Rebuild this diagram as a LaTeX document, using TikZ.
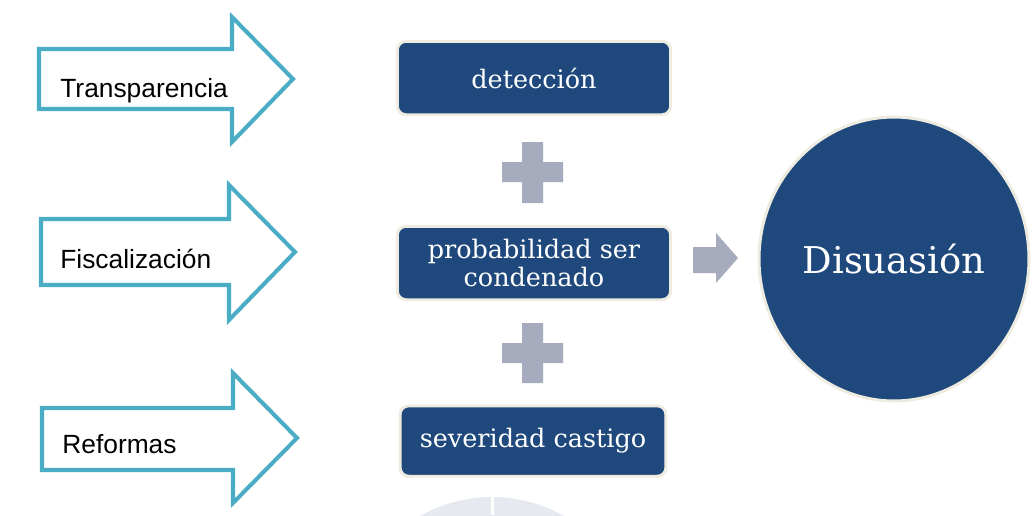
\documentclass[tikz,border=0pt]{standalone}
\usepackage{fontspec}
\setmainfont{DejaVu Serif}
\newfontfamily\armfont{Liberation Sans}
\usetikzlibrary{shapes.geometric}

\definecolor{navy}{RGB}{31,73,125}
\definecolor{cream}{RGB}{238,236,225}
\definecolor{tealline}{RGB}{75,172,198}
\definecolor{plusgray}{RGB}{166,171,189}
\definecolor{faintblue}{RGB}{230,233,240}

\begin{document}
\begin{tikzpicture}[x=0.02cm, y=-0.02cm,
	armlabel/.style={anchor=base west, inner sep=0pt, font=\armfont\fontsize{15}{18}\selectfont},
	bluebox/.style={draw=cream, line width=1.7pt, fill=navy, rounded corners=5pt, text=white,
		align=center, inner sep=0pt, font=\fontsize{14.5}{15.5}\selectfont},
	hollowarrow/.style={draw=tealline, line width=2.3pt, line join=miter}]
	\useasboundingbox (0,0) rectangle (1035,515);

	% ================= fondo: sello tenue abajo =================
	\begin{scope}
		\clip (0,0) rectangle (1035,515);
		\fill[faintblue] (492,642) circle (145);
		\fill[white] (490.5,490) rectangle (493.5,515);
	\end{scope}

	% ================= flechas de la izquierda =================
	\draw[hollowarrow] (39,49) -- (232,49) -- (232,17) -- (293,79) -- (232,142) -- (232,109) -- (39,109) -- cycle;
	\node[armlabel] (transp) at (60,97) {Transparencia};

	\draw[hollowarrow] (41,219) -- (229,219) -- (229,185) -- (295,252) -- (229,320) -- (229,285) -- (41,285) -- cycle;
	\node[armlabel] (fisc) at (60,268) {Fiscalización};

	\draw[hollowarrow] (42,408) -- (233,408) -- (233,373) -- (297,438) -- (233,503) -- (233,470) -- (42,470) -- cycle;
	\node[armlabel] (refor) at (62,453) {Reformas};

	% ================= factores =================
	\node[bluebox, minimum width=5.47cm, minimum height=1.47cm] (det) at (534,78) {detección};
	\node[bluebox, minimum width=5.47cm, minimum height=1.47cm] (prob) at (534,263) {probabilidad ser\\condenado};
	\node[bluebox, minimum width=5.32cm, minimum height=1.41cm] (sev) at (533,441) {severidad castigo};

	% signos +
	\fill[plusgray] (522,142) rectangle (543,203) (502,162) rectangle (563,182);
	\fill[plusgray] (522,323) rectangle (543,383) (502,343) rectangle (563,363);

	% flecha pequena hacia el resultado
	\fill[plusgray] (693,247) -- (716,247) -- (716,233) -- (738,258) -- (716,283) -- (716,273) -- (693,273) -- cycle;

	% ================= resultado =================
	\node[ellipse, draw=cream, line width=1.7pt, fill=navy, text=white, inner sep=0pt,
		minimum width=5.4cm, minimum height=5.68cm, font=\fontsize{21}{25}\selectfont] (disu) at (894,259) {Disuasión};
\end{tikzpicture}
\end{document}
